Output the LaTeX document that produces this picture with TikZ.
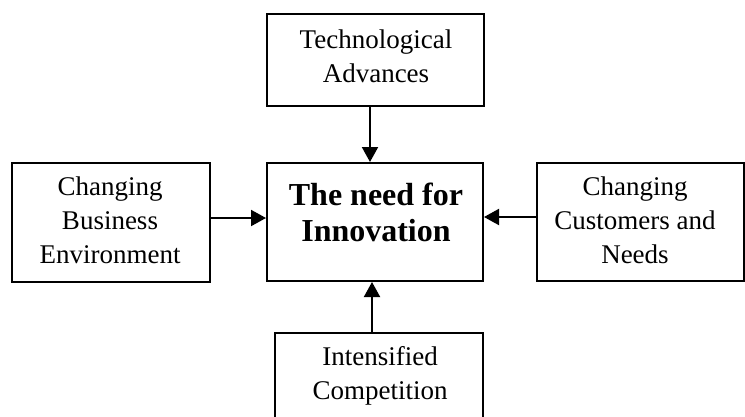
\documentclass[tikz,border=0pt]{standalone}
\usepackage{fontspec}
\setmainfont{Liberation Serif}
\usetikzlibrary{arrows.meta}
\begin{document}
\begin{tikzpicture}[x=1pt,y=-1pt,
  boxnode/.style={draw=black,line width=2pt,rectangle,inner sep=0pt},
  txt/.style={align=center,inner sep=0pt,font=\fontsize{27}{34}\selectfont},
  bigtxt/.style={align=center,inner sep=0pt,font=\fontsize{32}{36}\selectfont\bfseries},
  arr/.style={line width=2pt,-{Triangle[length=15pt,width=16pt]}}]
\useasboundingbox (0,0) rectangle (745,416);
% boxes
\node[boxnode,minimum width=217pt,minimum height=92pt] (tech) at (375.5,60) {};
\node[boxnode,minimum width=198pt,minimum height=119pt] (biz) at (111,222.5) {};
\node[boxnode,minimum width=216pt,minimum height=118pt] (need) at (375,222) {};
\node[boxnode,minimum width=207pt,minimum height=118pt] (cust) at (640.5,222) {};
\node[boxnode,minimum width=208pt,minimum height=87pt] (comp) at (379,376.5) {};
% texts
\node[txt] (techT) at (376,56.5) {Technological\\Advances};
\node[txt] (bizT) at (110,220) {Changing\\Business\\Environment};
\node[bigtxt] (needT) at (376,212) {The need for\\Innovation};
\node[txt] (custT) at (635,220) {Changing\\Customers and\\Needs};
\node[txt] (compT) at (380,376) {Intensified\\Competition};
% arrows
\draw[arr] ([xshift=-5.5pt]tech.south) -- ([xshift=-5.5pt]tech.south |- need.north);
\draw[arr] ([yshift=4.5pt]biz.east) -- ([yshift=4.5pt]biz.east -| need.west);
\draw[arr] ([yshift=5pt]cust.west) -- ([yshift=5pt]cust.west -| need.east);
\draw[arr] ([xshift=-7pt]comp.north) -- ([xshift=-7pt]comp.north |- need.south);
\end{tikzpicture}
\end{document}
